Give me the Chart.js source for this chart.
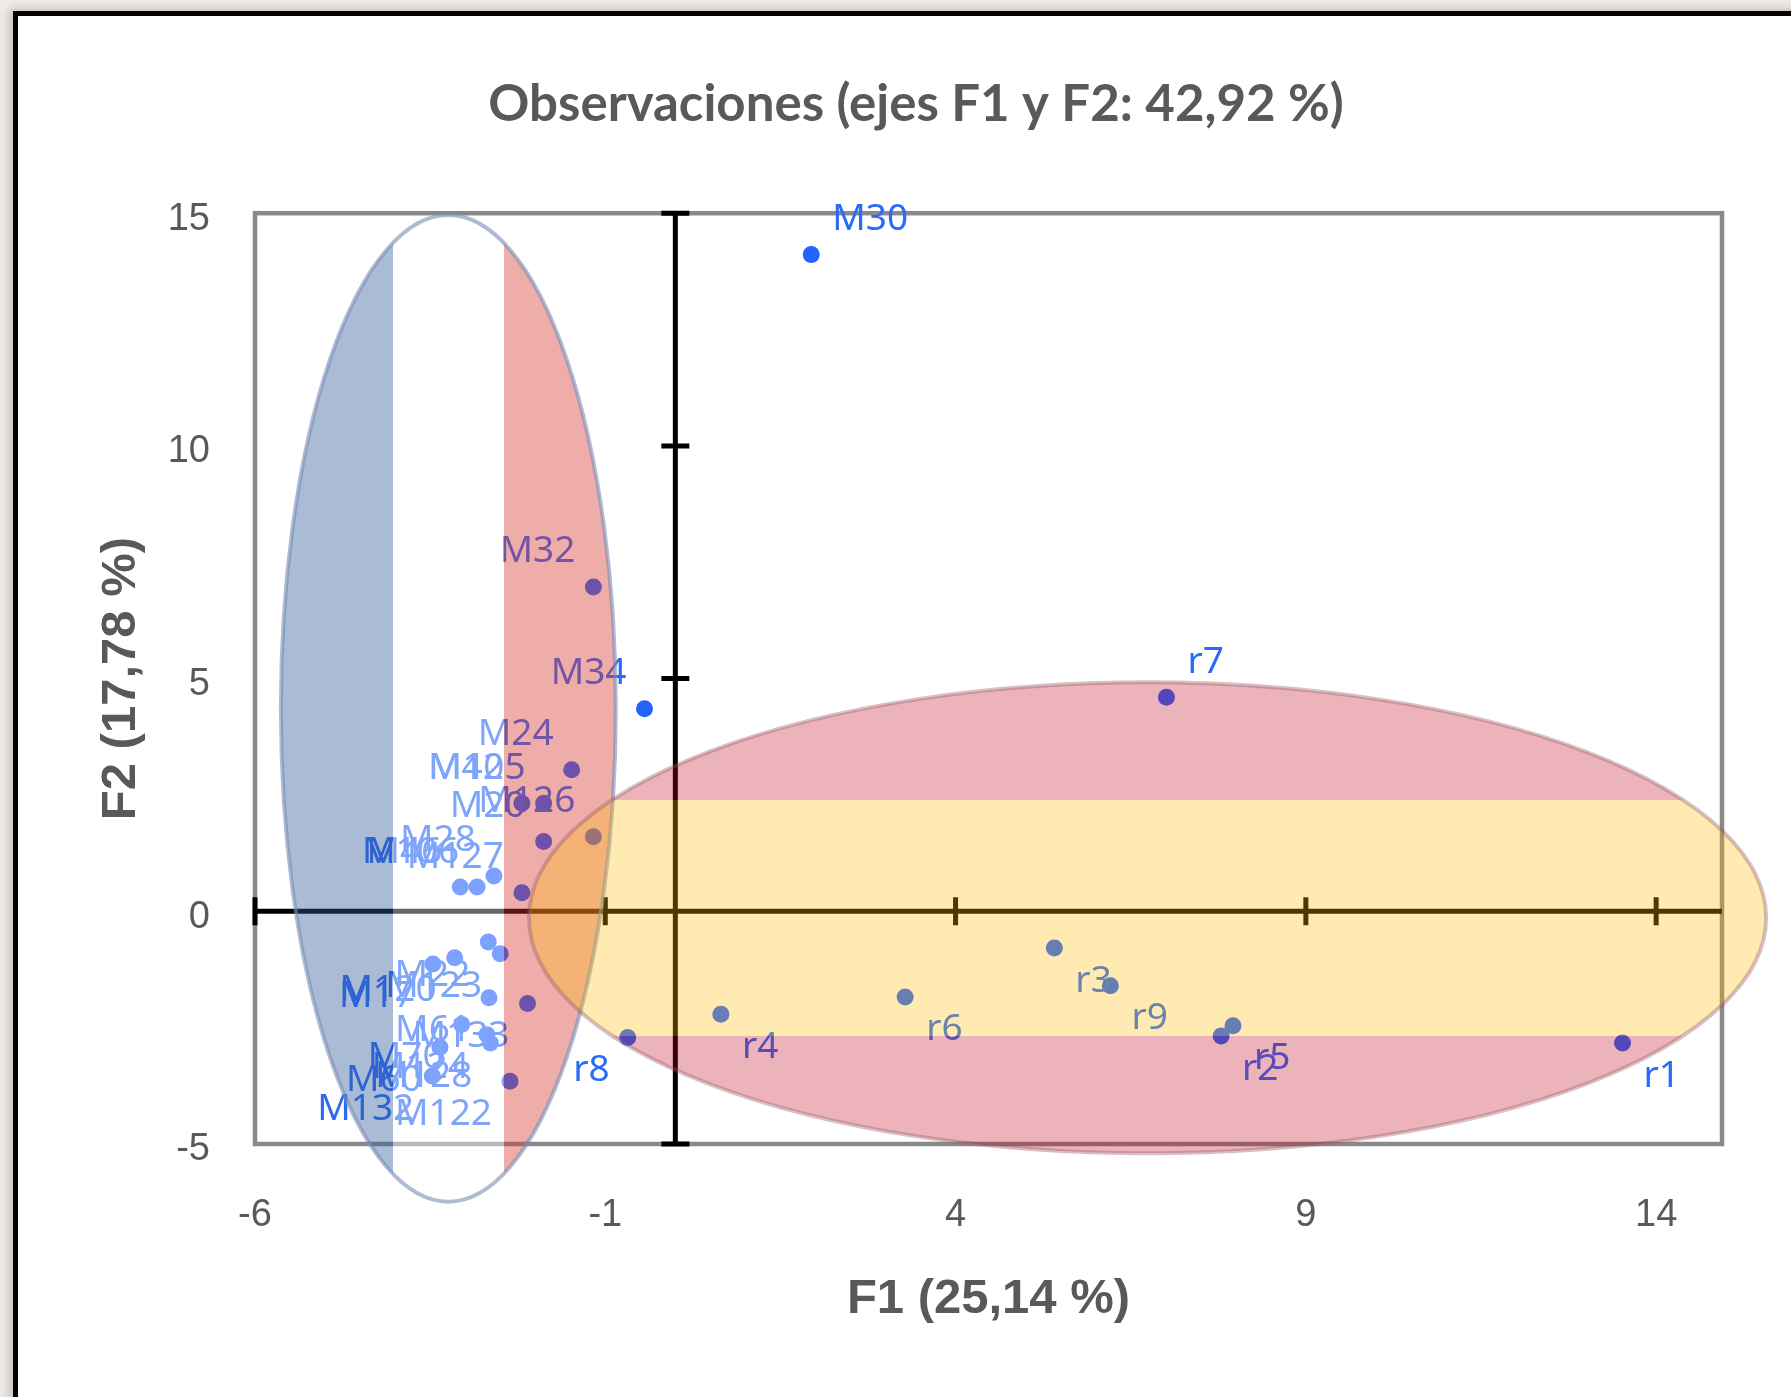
<!DOCTYPE html>
<html>
<head>
<meta charset="utf-8">
<script src="https://cdn.jsdelivr.net/npm/chart.js@4.4.1/dist/chart.umd.min.js"></script>
<style>
  html, body { margin: 0; padding: 0; width: 1791px; height: 1397px; overflow: hidden; background: #eeebe5; }
  #frame { position: absolute; left: 13px; top: 11px; width: 1800px; height: 1400px; background: #fff;
           border-left: 5px solid #000; border-top: 5px solid #000; box-shadow: -4px -2px 8px rgba(0,0,0,0.18); }
  #chart { position: absolute; left: 0; top: 0; }
</style>
</head>
<body>
<div id="frame"></div>
<canvas id="chart" width="1791" height="1397"></canvas>
<script>
// observaciones (F1, F2)
const obsNames = ['M30', 'M32', 'M34', 'M24', 'M42', 'M105', 'M126', 'M20', 'M28', 'M106', 'M46', 'M127',
                  'M22', 'M123', 'M120', 'M17', 'M61', 'M133', 'M70', 'M124', 'M128', 'M60', 'M132', 'M122',
                  'r1', 'r2', 'r3', 'r4', 'r5', 'r6', 'r7', 'r8', 'r9'];
const f1 = [1.94, -1.17, -0.44, -1.48, -2.19, -1.88, -1.17, -1.88, -2.59, -2.83, -3.07, -2.19,
            -2.67, -2.50, -3.15, -3.46, -2.66, -2.11, -3.05, -2.69, -2.64, -3.36, -3.47, -2.36,
            13.52, 7.79, 5.41, 0.65, 7.96, 3.28, 7.01, -0.68, 6.21];
const f2 = [14.11, 6.97, 4.35, 3.04, 2.32, 2.32, 1.60, 1.50, 0.76, 0.52, 0.52, 0.40,
            -0.66, -0.91, -1.00, -1.13, -1.86, -1.98, -2.43, -2.65, -2.83, -2.92, -3.54, -3.65,
            -2.83, -2.68, -0.79, -2.21, -2.46, -1.84, 4.60, -2.71, -1.60];
// donde va la etiqueta respecto al punto
const labelSide = ['ne', 'nw', 'nw', 'nw', 'nw', 'nw', 'nw', 'nw', 'nw', 'nw', 'nw', 'nw',
                   'sw', 'sw', 'sw', 'sw', 'sw', 'sw', 'sw', 'sw', 'sw', 'sw', 'sw', 'sw',
                   'se', 'se', 'se', 'se', 'se', 'se', 'ne', 'sw', 'se'];
const xTicks = [-6, -1, 4, 9, 14];
const yTicks = [-5, 0, 5, 10, 15];

const pointColor = '#2563ff';
const labelColor = '#2b6af8';
const greyText = '#595959';

// elipses con las banderas (en unidades de los ejes)
const flagShapes = [
  { cx: -3.24, cy: 4.36, rx: 2.39, ry: 10.6, vertical: true, weights: [1, 1, 1],
    bands: ['rgba(48,89,155,0.41)', 'rgba(255,255,255,0.4)', 'rgba(216,57,47,0.41)'],
    edge: 'rgba(120,142,182,0.6)' },
  { cx: 6.74, cy: -0.14, rx: 8.83, ry: 5.06, vertical: false, weights: [1, 2, 1],
    bands: ['rgba(192,5,25,0.3)', 'rgba(255,190,0,0.3)', 'rgba(192,5,25,0.3)'],
    edge: 'rgba(150,90,100,0.38)' }
];

// ---- marco gris + ejes cruzados en el origen
const crossAxesPlugin = {
  id: 'crossAxes',
  beforeDatasetsDraw(chart) {
    const { ctx, chartArea: a, scales: { x, y } } = chart;
    ctx.save();
    ctx.strokeStyle = '#898989';
    ctx.lineWidth = 4.5;
    ctx.strokeRect(a.left, a.top, a.right - a.left, a.bottom - a.top);

    const x0 = x.getPixelForValue(0);
    const y0 = y.getPixelForValue(0);
    ctx.strokeStyle = '#000';
    ctx.lineWidth = 5;
    ctx.beginPath();
    ctx.moveTo(x0, a.top); ctx.lineTo(x0, a.bottom);
    ctx.moveTo(a.left, y0); ctx.lineTo(a.right, y0);
    x.ticks.forEach(t => {
      const px = x.getPixelForValue(t.value);
      ctx.moveTo(px, y0 - 14); ctx.lineTo(px, y0 + 14);
    });
    y.ticks.forEach(t => {
      const py = y.getPixelForValue(t.value);
      ctx.moveTo(x0 - 14, py); ctx.lineTo(x0 + 14, py);
    });
    ctx.stroke();
    ctx.restore();
  }
};

// ---- etiquetas de las observaciones
const labelPlugin = {
  id: 'obsLabels',
  afterDatasetsDraw(chart) {
    const { ctx } = chart;
    const pts = chart.getDatasetMeta(0).data;
    ctx.save();
    ctx.font = '37px "Noto Sans"';
    ctx.fillStyle = labelColor;
    ctx.textBaseline = 'middle';
    pts.forEach((p, i) => {
      const side = labelSide[i];
      const east = side[1] === 'e';
      ctx.textAlign = east ? 'left' : 'right';
      ctx.fillText(obsNames[i], p.x + (east ? 21 : -18), p.y + (side[0] === 'n' ? -35 : 33));
    });
    ctx.restore();
  }
};

// ---- elipses semitransparentes encima de todo
const flagPlugin = {
  id: 'flagShapes',
  afterDraw(chart) {
    const { ctx, scales: { x, y } } = chart;
    flagShapes.forEach(s => {
      const cx = x.getPixelForValue(s.cx);
      const cy = y.getPixelForValue(s.cy);
      const rx = x.getPixelForValue(s.cx + s.rx) - cx;
      const ry = cy - y.getPixelForValue(s.cy + s.ry);
      const total = s.weights.reduce((a, b) => a + b, 0);

      ctx.save();
      ctx.beginPath();
      ctx.ellipse(cx, cy, rx, ry, 0, 0, Math.PI * 2);
      ctx.save();
      ctx.clip();
      let acc = 0;
      s.bands.forEach((col, i) => {
        ctx.fillStyle = col;
        if (s.vertical) {
          const a0 = Math.round(cx - rx + 2 * rx * acc / total);
          const a1 = Math.round(cx - rx + 2 * rx * (acc + s.weights[i]) / total);
          ctx.fillRect(a0, cy - ry - 2, a1 - a0, 2 * ry + 4);
        } else {
          const b0 = Math.round(cy - ry + 2 * ry * acc / total);
          const b1 = Math.round(cy - ry + 2 * ry * (acc + s.weights[i]) / total);
          ctx.fillRect(cx - rx - 2, b0, 2 * rx + 4, b1 - b0);
        }
        acc += s.weights[i];
      });
      ctx.restore();
      ctx.lineWidth = 4;
      ctx.strokeStyle = s.edge;
      ctx.stroke();
      ctx.restore();
    });
  }
};

new Chart(document.getElementById('chart'), {
  type: 'scatter',
  data: {
    datasets: [{
      data: obsNames.map((n, i) => ({ x: f1[i], y: f2[i] })),
      backgroundColor: pointColor,
      borderWidth: 0,
      pointRadius: 8.5
    }]
  },
  options: {
    responsive: false,
    animation: false,
    devicePixelRatio: 1,
    layout: { padding: { left: 110, right: 69, top: 0, bottom: 0 } },
    plugins: {
      legend: { display: false },
      tooltip: { enabled: false },
      title: {
        display: true,
        text: 'Observaciones (ejes F1 y F2: 42,92 %)',
        color: greyText,
        font: { family: 'Lato', size: 51, weight: 'bold', lineHeight: 1.2 },
        padding: { top: 74, bottom: 78 }
      }
    },
    scales: {
      x: {
        type: 'linear',
        min: -6,
        max: 14.94,
        afterBuildTicks: s => { s.ticks = xTicks.map(v => ({ value: v })); },
        afterFit: s => { s.height = 253; },
        grid: { display: false, drawTicks: false },
        border: { display: false },
        ticks: { padding: 49, color: greyText, font: { family: 'Liberation Sans', size: 38 },
                 autoSkip: false, maxRotation: 0, callback: v => String(v) },
        title: { display: true, text: 'F1 (25,14 %)', color: greyText,
                 font: { family: 'Liberation Sans', size: 49, weight: 'bold', lineHeight: 1.2 },
                 padding: { top: 0, bottom: 68 } }
      },
      y: {
        type: 'linear',
        min: -5,
        max: 15,
        afterBuildTicks: s => { s.ticks = yTicks.map(v => ({ value: v })); },
        afterFit: s => { s.width = 145; },
        grid: { display: false, drawTicks: false },
        border: { display: false },
        ticks: { padding: 45, labelOffset: 6, color: greyText, font: { family: 'Liberation Sans', size: 38 },
                 autoSkip: false, callback: v => String(v) },
        title: { display: true, text: 'F2 (17,78 %)', color: greyText,
                 font: { family: 'Liberation Sans', size: 49, weight: 'bold', lineHeight: 0.46 },
                 padding: { top: 0, bottom: 0 } }
      }
    }
  },
  plugins: [crossAxesPlugin, labelPlugin, flagPlugin]
});
</script>
</body>
</html>
